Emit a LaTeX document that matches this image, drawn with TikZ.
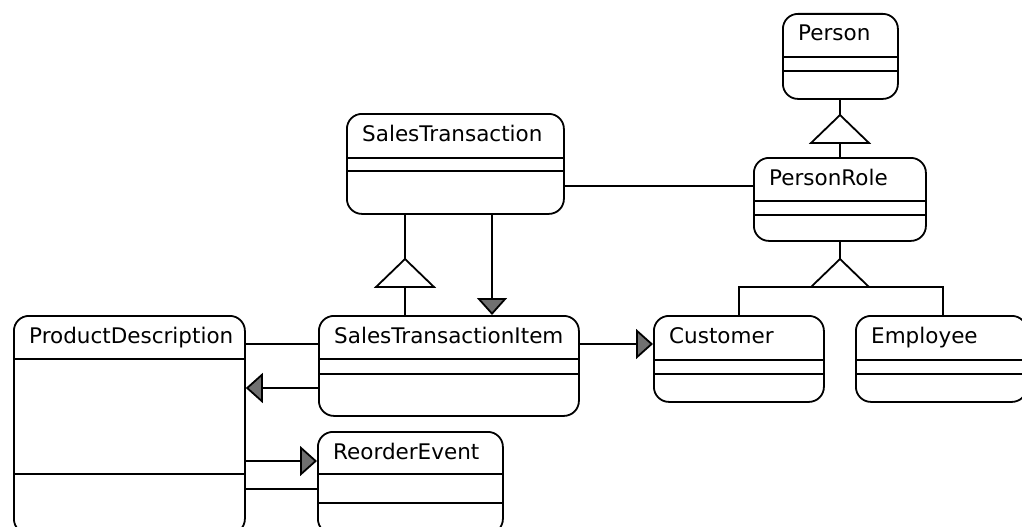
\documentclass[tikz,border=0pt]{standalone}
\usepackage{fontspec}
\setmainfont{DejaVu Sans}
\usetikzlibrary{arrows.meta}
\definecolor{tipgray}{RGB}{112,112,112}

\tikzset{
  umlbox/.style={draw, line width=1.8pt, rounded corners=15pt, inner sep=0pt, anchor=north west},
  umltitle/.style={anchor=base west, inner sep=0pt, font=\fontsize{21.5}{22}\selectfont},
  divider/.style={line width=1.8pt},
  assoc/.style={line width=1.8pt},
  navig/.style={line width=1.8pt, -{Triangle[length=17pt, width=30pt, fill=tipgray]}},
  gentri/.style={line width=1.8pt, fill=white, line join=miter},
}

% class box: name, left, top, right, bottom, divider 1, divider 2, title
\newcommand\umlclass[8]{%
  \node[umlbox, minimum width={#4-#2}, minimum height={#5-#3}] (#1) at (#2,#3) {};
  \node[umltitle] (#1-title) at (#2+16,#3+28) {#8};
  \draw[divider] (#2,#6) -- (#4,#6);
  \draw[divider] (#2,#7) -- (#4,#7);
}

% open generalization triangle, apex at the given coordinate, pointing up
\newcommand\gentriangle[1]{%
  \draw[gentri] (#1) -- ++(-29,28) -- ++(58,0) -- cycle;
}

\begin{document}
\begin{tikzpicture}[x=1pt, y=-1pt]
  \useasboundingbox (0,0) rectangle (1022,527);
  \clip (0,0) rectangle (1022,527);

  % classes
  \umlclass{Person}{782}{13}{897}{98}{57}{71}{Person}
  \umlclass{PersonRole}{753}{157}{925}{240}{201}{215}{PersonRole}
  \umlclass{SalesTransaction}{346}{113}{563}{213}{158}{171}{SalesTransaction}
  \umlclass{SalesTransactionItem}{318}{315}{578}{415}{359}{374}{SalesTransactionItem}
  \umlclass{ProductDescription}{13}{315}{244}{533}{359}{474}{ProductDescription}
  \umlclass{ReorderEvent}{317}{431}{502}{533}{474}{503}{ReorderEvent}
  \umlclass{Customer}{653}{315}{823}{401}{360}{374}{Customer}
  \umlclass{Employee}{855}{315}{1026}{401}{360}{374}{Employee}

  % generalization anchor points (triangle apexes)
  \coordinate (genPerson) at (840,115);
  \coordinate (genSales)  at (405,259);
  \coordinate (genRole)   at (840,259);
  \coordinate (roleBar)   at (840,287);

  % Person <|-- PersonRole
  \draw[assoc] (PersonRole.north -| genPerson) -- (Person.south -| genPerson);
  \gentriangle{genPerson}

  % SalesTransaction <|-- SalesTransactionItem
  \draw[assoc] (SalesTransactionItem.north -| genSales) -- (SalesTransaction.south -| genSales);
  \gentriangle{genSales}

  % PersonRole <|-- Customer, Employee
  \draw[assoc] (PersonRole.south -| genRole) -- (roleBar);
  \draw[assoc] (Customer.north -| 739,0) |- (roleBar) -| (Employee.north -| 943,0);
  \gentriangle{genRole}

  % associations
  \draw[assoc] (SalesTransaction.east |- 0,186) -- (PersonRole.west |- 0,186);
  \draw[assoc] (ProductDescription.east |- 0,344) -- (SalesTransactionItem.west |- 0,344);
  \draw[assoc] (ProductDescription.east |- 0,489) -- (ReorderEvent.west |- 0,489);

  % navigable associations
  \draw[navig] (SalesTransaction.south -| 492,0) -- (SalesTransactionItem.north -| 492,0);
  \draw[navig] (SalesTransactionItem.west |- 0,388) -- (ProductDescription.east |- 0,388);
  \draw[navig] (SalesTransactionItem.east |- 0,344) -- (Customer.west |- 0,344);
  \draw[navig] (ProductDescription.east |- 0,461) -- (ReorderEvent.west |- 0,461);
\end{tikzpicture}
\end{document}
